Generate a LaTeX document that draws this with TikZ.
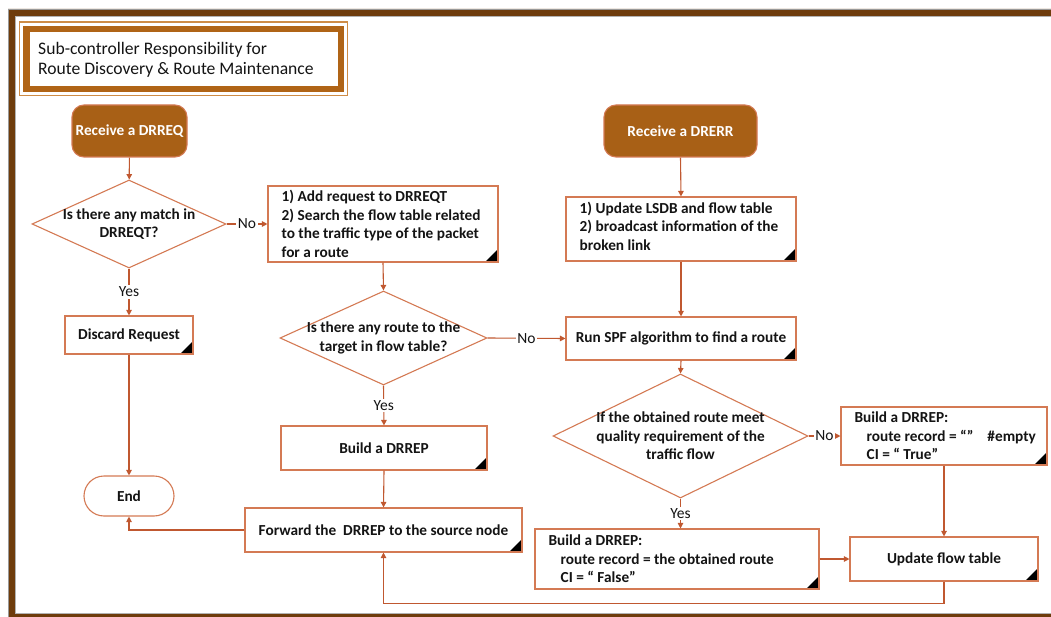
\documentclass[tikz,border=0pt]{standalone}
\usepackage{fontspec}
\setmainfont{Carlito}
\usetikzlibrary{shapes.geometric,arrows.meta}

\definecolor{framebrown}{RGB}{110,60,12}
\definecolor{titlebrown}{RGB}{176,100,22}
\definecolor{titleline}{RGB}{206,140,70}
\definecolor{startfill}{RGB}{168,96,22}
\definecolor{linec}{RGB}{192,88,48}
\definecolor{boxc}{RGB}{212,122,84}
\definecolor{ink}{RGB}{20,20,20}

\newcommand\boxfont{\fontsize{15.3}{18.5}\selectfont\bfseries}
\newcommand\lblfont{\fontsize{15.5}{18.5}\selectfont}
\newcommand\headfont{\fontsize{17.6}{20.5}\selectfont}

\begin{document}
\begin{tikzpicture}[x=1pt,y=-1pt,
  base/.style={draw=boxc, line width=1.1pt, inner sep=0pt, text=ink, font=\boxfont},
  start/.style={base, rectangle, rounded corners=12pt, fill=startfill, text=white},
  proc/.style={base, rectangle, fill=white, align=center,
    path picture={\fill[black] (path picture bounding box.south east)
      -- ++(-13pt,0pt) -- ++(13pt,13pt) -- cycle;}},
  stop/.style={base, rectangle, rounded corners=20pt, fill=white},
  decision/.style={base, diamond, fill=white},
  txt/.style={inner sep=0pt, text=ink, font=\boxfont},
  conn/.style={draw=linec, line width=1.1pt, -{Triangle[length=5.5pt,width=5.5pt]}},
  lbl/.style={fill=white, inner sep=1.5pt, text=ink, font=\lblfont}]

\useasboundingbox (0,0) rectangle (1051,617);
\clip (0,0) rectangle (1051,617);

% outer frame (open on the right)
\fill[framebrown, even odd rule] (8,9) rectangle (1070,640) (15,16) rectangle (1070,613.5);
\draw[gray!80, line width=0.8pt] (1070,9) -- (8,9) -- (8,640);
\draw[gray!60, line width=0.6pt] (1070,16) -- (15,16) -- (15,613.5) -- (1070,613.5);

% heading box
\draw[titleline, line width=1.3pt] (19.5,22) rectangle (347.5,95.5);
\draw[titlebrown, line width=6.5pt] (26.5,29) rectangle (341,89);
\node[anchor=west, align=left, inner sep=0pt, text=ink, font=\headfont] (head) at (38,60)
  {Sub-controller Responsibility for\\Route Discovery \& Route Maintenance};

% left column: DRREQ handling
\node[start, minimum width=115pt, minimum height=52pt] (rq) at (129.5,131) {Receive a DRREQ};
\node[decision, minimum width=194pt, minimum height=88pt] (d1) at (129,224) {};
\node[txt, align=center] (d1t) at (d1) {Is there any match in\\DRREQT?};
\node[proc, minimum width=128pt, minimum height=38pt] (dis) at (129,335) {Discard Request};
\node[stop, minimum width=90pt, minimum height=40pt] (end) at (129,496) {End};

% middle column
\node[proc, minimum width=230pt, minimum height=76pt] (p2) at (383,224) {};
\node[txt, anchor=west, align=left] (p2t) at ([xshift=14pt]p2.west)
  {1) Add request to DRREQT\\2) Search the flow table related\\to the traffic type of the packet\\for a route};
\node[decision, minimum width=207pt, minimum height=94pt] (d2) at (383.5,338) {};
\node[txt, align=center] (d2t) at (d2) {Is there any route to the\\target in flow table?};
\node[proc, minimum width=206pt, minimum height=44pt] (br) at (384,448) {Build a DRREP};
\node[proc, minimum width=277pt, minimum height=44pt] (fw) at (383.5,530) {Forward the\ \ DRREP to the source node};

% right part: DRERR handling
\node[start, minimum width=153pt, minimum height=52pt] (re) at (680.5,131) {Receive a DRERR};
\node[proc, minimum width=230pt, minimum height=64pt] (ls) at (681,229) {};
\node[txt, anchor=west, align=left] (lst) at ([xshift=14pt,yshift=3pt]ls.west)
  {1) Update LSDB and flow table\\2) broadcast information of the\\broken link};
\node[proc, minimum width=230pt, minimum height=43pt] (spf) at (681,338.5) {Run SPF algorithm to find a route};
\node[decision, minimum width=255pt, minimum height=124pt] (d3) at (680.5,436) {};
\node[txt, align=center] (d3t) at (d3) {If the obtained route meet\\quality requirement of the\\traffic flow};
\node[proc, minimum width=206pt, minimum height=58pt] (tb) at (944,436) {};
\node[txt, anchor=west, align=left] (tbt) at ([xshift=14pt]tb.west)
  {Build a DRREP:\\\hspace*{12pt}route record = “”\hspace{14pt}\#empty\\\hspace*{12pt}CI = “ True”};
\node[proc, minimum width=284pt, minimum height=60pt] (fb) at (677,559) {};
\node[txt, anchor=west, align=left] (fbt) at ([xshift=14pt]fb.west)
  {Build a DRREP:\\\hspace*{12pt}route record = the obtained route\\\hspace*{12pt}CI = “ False”};
\node[proc, minimum width=188pt, minimum height=44pt] (uf) at (944,559) {Update flow table};

% connectors
\draw[conn] (rq) -- (d1);
\draw[conn] (d1.east) -- node[lbl] {No} (p2.west);
\draw[conn] (d1.south) -- node[lbl] {Yes} (dis.north);
\draw[conn] (dis.south) -- (end.north);
\draw[conn] (p2.south) -- (d2.north);
\draw[conn] (d2.east) -- node[lbl] {No} (spf.west);
\draw[conn] (d2.south) -- node[lbl] {Yes} (br.north);
\draw[conn] (br.south) -- (fw.north);
\draw[conn] (fw.west) -| (end.south);
\draw[conn] (re.south) -- (ls.north);
\draw[conn] (ls.south) -- (spf.north);
\draw[conn] (spf.south) -- (d3.north);
\draw[conn] (d3.east) -- node[lbl] {No} (tb.west);
\draw[conn] (d3.south) -- node[lbl] {Yes} (d3.south |- fb.north);
\draw[conn] (fb.east) -- (uf.west);
\draw[conn] (tb.south) -- (uf.north);
\draw[conn] (uf.south) -- ++(0,22) -| (fw.south);
\end{tikzpicture}
\end{document}
